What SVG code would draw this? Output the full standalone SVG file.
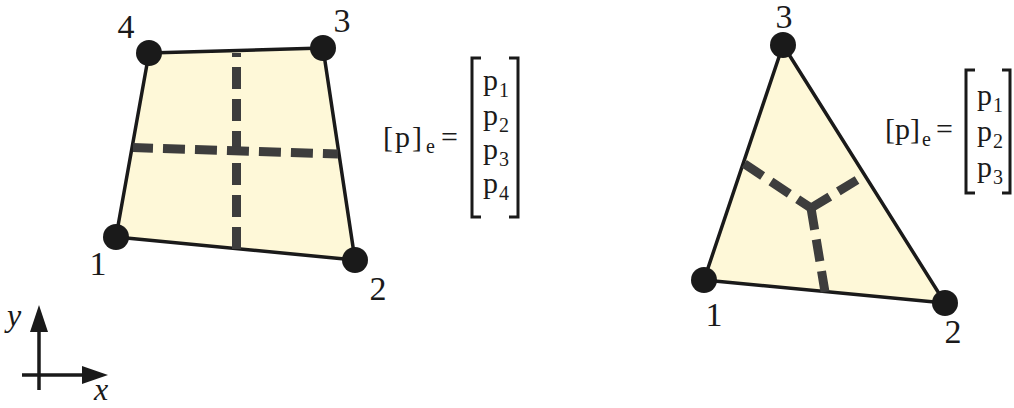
<svg xmlns="http://www.w3.org/2000/svg" width="1014" height="408" viewBox="0 0 1014 408">
<style>
.el{fill:#fef8d8;stroke:#1a1a1a;stroke-width:3.5;stroke-linejoin:round}
.dash{fill:none;stroke:#3d3d3d;stroke-width:9;stroke-dasharray:22 10}
.node{fill:#1a1a1a}
.lbl{font-size:34px;text-anchor:middle}
.eq{font-size:30px}
.sub{font-size:20px}
.br{fill:none;stroke:#1a1a1a;stroke-width:3}
.ax{stroke:#1a1a1a;stroke-width:3.5;fill:none}
.it{font-size:32px;font-style:italic}
</style>
<g font-family="Liberation Serif, DejaVu Serif, Noto Serif, Tinos, serif" fill="#1a1a1a">
<g id="quad">
<polygon class="el" points="116,237 355,260 323,48 149,53"/>
<line class="dash" x1="236.5" y1="53" x2="236.5" y2="249" stroke-dashoffset="18"/>
<line class="dash" x1="133" y1="147.5" x2="338" y2="154" stroke-dashoffset="2"/>
</g>
<g id="quad-nodes">
<g id="q1"><circle class="node" cx="116" cy="237" r="13"/><text class="lbl" x="98" y="275">1</text></g>
<g id="q2"><circle class="node" cx="355" cy="260" r="13"/><text class="lbl" x="378" y="300">2</text></g>
<g id="q3"><circle class="node" cx="323" cy="48" r="13"/><text class="lbl" x="342" y="32">3</text></g>
<g id="q4"><circle class="node" cx="149" cy="53" r="13"/><text class="lbl" x="126" y="38">4</text></g>
</g>
<g id="quad-eq">
<text class="eq" x="383" y="147" textLength="39" lengthAdjust="spacing">[p]</text>
<text class="sub" x="426" y="153">e</text>
<text class="eq" x="441" y="147">=</text>
<path class="br" d="M481,58 H472 V217 H481"/>
<path class="br" d="M509,58 H518 V217 H509"/>
<text class="eq" x="483" y="90">p</text><text class="sub" x="499" y="97">1</text>
<text class="eq" x="483" y="125">p</text><text class="sub" x="499" y="132">2</text>
<text class="eq" x="483" y="159">p</text><text class="sub" x="499" y="166">3</text>
<text class="eq" x="483" y="193">p</text><text class="sub" x="499" y="200">4</text>
</g>
<g id="tri">
<polygon class="el" points="704,280 945,303 783,45"/>
<line class="dash" x1="811" y1="208" x2="743" y2="163" stroke-dashoffset="6"/>
<line class="dash" x1="811" y1="208" x2="857" y2="180"/>
<line class="dash" x1="811" y1="208" x2="825" y2="292"/>
</g>
<g id="tri-nodes">
<g id="t1"><circle class="node" cx="704" cy="280" r="13"/><text class="lbl" x="714" y="326">1</text></g>
<g id="t2"><circle class="node" cx="945" cy="303" r="13"/><text class="lbl" x="953" y="343">2</text></g>
<g id="t3"><circle class="node" cx="783" cy="45" r="13"/><text class="lbl" x="784" y="28">3</text></g>
</g>
<g id="tri-eq">
<text class="eq" x="885" y="139" textLength="35" lengthAdjust="spacing">[p]</text>
<text class="sub" x="922" y="146">e</text>
<text class="eq" x="936" y="139">=</text>
<path class="br" d="M975,70 H966 V193 H975"/>
<path class="br" d="M1002,70 H1010 V193 H1002"/>
<text class="eq" x="977" y="105">p</text><text class="sub" x="993" y="112">1</text>
<text class="eq" x="977" y="141">p</text><text class="sub" x="993" y="148">2</text>
<text class="eq" x="977" y="177">p</text><text class="sub" x="993" y="184">3</text>
</g>
<g id="axes">
<line class="ax" x1="39" y1="390" x2="39" y2="325"/>
<polygon class="node" points="39,305 30,332 48,332"/>
<line class="ax" x1="22" y1="375" x2="88" y2="375"/>
<polygon class="node" points="108,375 82,366 82,384"/>
<text class="it" x="7" y="326">y</text>
<text class="it" x="94" y="400">x</text>
</g>
</g>
</svg>
